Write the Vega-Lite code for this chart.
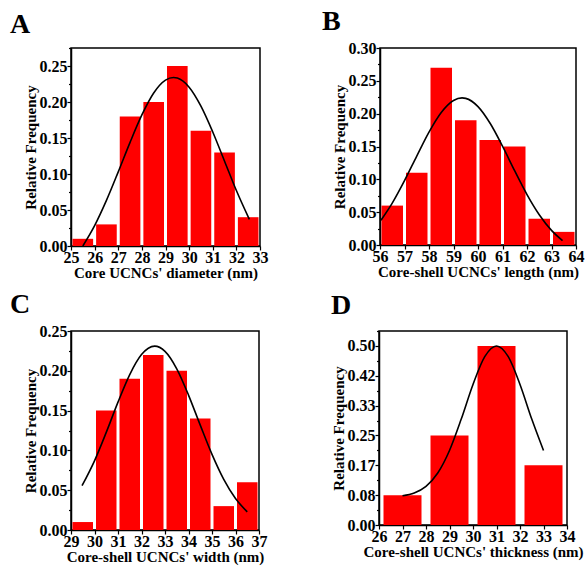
{
  "$schema": "https://vega.github.io/schema/vega-lite/v6.json",
  "background": "white",
  "padding": {"left": 9, "top": 7, "right": 0, "bottom": 2},
  "config": {
    "font": "Liberation Serif",
    "view": {"stroke": "black", "strokeWidth": 1.5},
    "axis": {
      "labelFont": "Liberation Serif", "labelFontWeight": "bold", "labelFontSize": 16, "labelColor": "black",
      "titleFont": "Liberation Serif", "titleFontWeight": "bold", "titleFontSize": 15, "titleColor": "black",
      "domainColor": "black", "domainWidth": 1.5, "tickColor": "black", "tickWidth": 1.2, "tickSize": 4,
      "labelPadding": 0, "titlePadding": 1, "grid": false, "labelFlush": false, "labelOverlap": false, "labelSeparation": -14
    },
    "axisX": {"labelPadding": -1, "titlePadding": 0},
    "title": {"font": "Liberation Serif", "fontSize": 28, "fontWeight": "bold", "color": "black", "anchor": "start", "frame": "bounds", "offset": 8}
  },
  "datasets": {
    "histA": [
      {"lo": 25, "hi": 26, "freq": 0.01}, {"lo": 26, "hi": 27, "freq": 0.03}, {"lo": 27, "hi": 28, "freq": 0.18}, {"lo": 28, "hi": 29, "freq": 0.20},
      {"lo": 29, "hi": 30, "freq": 0.25}, {"lo": 30, "hi": 31, "freq": 0.16}, {"lo": 31, "hi": 32, "freq": 0.13}, {"lo": 32, "hi": 33, "freq": 0.04}
    ],
    "fitA": [
      {"x": 25.5, "y": 0.0}, {"x": 26, "y": 0.0283}, {"x": 26.5, "y": 0.0633}, {"x": 27, "y": 0.103}, {"x": 27.5, "y": 0.144},
      {"x": 28, "y": 0.182}, {"x": 28.5, "y": 0.2125}, {"x": 29, "y": 0.2304}, {"x": 29.34, "y": 0.234}, {"x": 29.5, "y": 0.2332},
      {"x": 30, "y": 0.2206}, {"x": 30.5, "y": 0.1943}, {"x": 31, "y": 0.1584}, {"x": 31.5, "y": 0.1178}, {"x": 32, "y": 0.077}, {"x": 32.55, "y": 0.0369}
    ],
    "histB": [
      {"lo": 56, "hi": 57, "freq": 0.06}, {"lo": 57, "hi": 58, "freq": 0.11}, {"lo": 58, "hi": 59, "freq": 0.27}, {"lo": 59, "hi": 60, "freq": 0.19},
      {"lo": 60, "hi": 61, "freq": 0.16}, {"lo": 61, "hi": 62, "freq": 0.15}, {"lo": 62, "hi": 63, "freq": 0.04}, {"lo": 63, "hi": 64, "freq": 0.02}
    ],
    "fitB": [
      {"x": 56.04, "y": 0.0377}, {"x": 56.5, "y": 0.0638}, {"x": 57, "y": 0.098}, {"x": 57.5, "y": 0.1355}, {"x": 58, "y": 0.172},
      {"x": 58.5, "y": 0.2019}, {"x": 59, "y": 0.2201}, {"x": 59.35, "y": 0.224}, {"x": 59.5, "y": 0.2233}, {"x": 60, "y": 0.2108},
      {"x": 60.5, "y": 0.185}, {"x": 61, "y": 0.1505}, {"x": 61.5, "y": 0.1128}, {"x": 62, "y": 0.0768}, {"x": 62.5, "y": 0.0461},
      {"x": 63, "y": 0.0223}, {"x": 63.45, "y": 0.0067}
    ],
    "histC": [
      {"lo": 29, "hi": 30, "freq": 0.01}, {"lo": 30, "hi": 31, "freq": 0.15}, {"lo": 31, "hi": 32, "freq": 0.19}, {"lo": 32, "hi": 33, "freq": 0.22},
      {"lo": 33, "hi": 34, "freq": 0.20}, {"lo": 34, "hi": 35, "freq": 0.14}, {"lo": 35, "hi": 36, "freq": 0.03}, {"lo": 36, "hi": 37, "freq": 0.06}
    ],
    "fitC": [
      {"x": 29.47, "y": 0.0556}, {"x": 30, "y": 0.0869}, {"x": 30.5, "y": 0.1226}, {"x": 31, "y": 0.1606}, {"x": 31.5, "y": 0.1953},
      {"x": 32, "y": 0.2204}, {"x": 32.56, "y": 0.231}, {"x": 33, "y": 0.2244}, {"x": 33.5, "y": 0.2025}, {"x": 34, "y": 0.1695},
      {"x": 34.5, "y": 0.1317}, {"x": 35, "y": 0.095}, {"x": 35.5, "y": 0.0636}, {"x": 36, "y": 0.0395}, {"x": 36.5, "y": 0.0228}
    ],
    "histD": [
      {"lo": 26, "hi": 28, "freq": 0.0833}, {"lo": 28, "hi": 30, "freq": 0.25}, {"lo": 30, "hi": 32, "freq": 0.5}, {"lo": 32, "hi": 34, "freq": 0.1667}
    ],
    "fitD": [
      {"x": 27, "y": 0.0818}, {"x": 27.5, "y": 0.0895}, {"x": 28, "y": 0.1079}, {"x": 28.5, "y": 0.1451}, {"x": 29, "y": 0.2081},
      {"x": 29.5, "y": 0.2957}, {"x": 30, "y": 0.3925}, {"x": 30.5, "y": 0.4701}, {"x": 31, "y": 0.5}, {"x": 31.5, "y": 0.4701},
      {"x": 32, "y": 0.3925}, {"x": 32.5, "y": 0.2957}, {"x": 33, "y": 0.2081}
    ]
  },
  "vconcat": [
    {
      "hconcat": [
        {
          "title": {"text": "A", "dx": -13, "offset": 8},
          "width": 189, "height": 198,
          "resolve": {"axis": {"y": "independent"}},
          "layer": [
            {
              "data": {"name": "histA"},
              "mark": {"type": "bar", "color": "#ff0000", "xOffset": 1.5, "x2Offset": -1.5},
              "encoding": {
                "x": {"field": "lo", "type": "quantitative", "scale": {"domain": [25, 33], "nice": false},
                      "axis": {"values": [25, 26, 27, 28, 29, 30, 31, 32, 33], "labelOverlap": false, "labelSeparation": -14, "title": "Core UCNCs' diameter (nm)"}},
                "x2": {"field": "hi"},
                "y": {"field": "freq", "type": "quantitative", "scale": {"domain": [0, 0.275], "nice": false},
                      "axis": {"values": [0, 0.05, 0.1, 0.15, 0.2, 0.25], "format": ".2f", "title": "Relative Frequency"}},
                "y2": {"datum": 0}
              }
            },
            {
              "data": {"name": "fitA"},
              "mark": {"type": "line", "color": "black", "strokeWidth": 1.6, "interpolate": "monotone"},
              "encoding": {
                "x": {"field": "x", "type": "quantitative",
                      "axis": {"values": [25, 26, 27, 28, 29, 30, 31, 32, 33], "labelOverlap": false, "labelSeparation": -14, "title": "Core UCNCs' diameter (nm)"}},
                "y": {"field": "y", "type": "quantitative",
                      "axis": {"orient": "left", "values": [0.025, 0.075, 0.125, 0.175, 0.225, 0.275], "labels": false, "domain": false, "title": null, "tickSize": 2.5}}
              }
            }
          ]
        },
        {
          "title": {"text": "B", "dx": -10, "offset": 4},
          "width": 196, "height": 197,
          "resolve": {"axis": {"y": "independent"}},
          "layer": [
            {
              "data": {"name": "histB"},
              "mark": {"type": "bar", "color": "#ff0000", "xOffset": 1.5, "x2Offset": -1.5},
              "encoding": {
                "x": {"field": "lo", "type": "quantitative", "scale": {"domain": [56, 64], "nice": false},
                      "axis": {"values": [56, 57, 58, 59, 60, 61, 62, 63, 64], "labelOverlap": false, "labelSeparation": -14, "title": "Core-shell UCNCs' length (nm)"}},
                "x2": {"field": "hi"},
                "y": {"field": "freq", "type": "quantitative", "scale": {"domain": [0, 0.3], "nice": false},
                      "axis": {"values": [0, 0.05, 0.1, 0.15, 0.2, 0.25, 0.3], "format": ".2f", "title": "Relative Frequency"}},
                "y2": {"datum": 0}
              }
            },
            {
              "data": {"name": "fitB"},
              "mark": {"type": "line", "color": "black", "strokeWidth": 1.6, "interpolate": "monotone"},
              "encoding": {
                "x": {"field": "x", "type": "quantitative",
                      "axis": {"values": [56, 57, 58, 59, 60, 61, 62, 63, 64], "labelOverlap": false, "labelSeparation": -14, "title": "Core-shell UCNCs' length (nm)"}},
                "y": {"field": "y", "type": "quantitative",
                      "axis": {"orient": "left", "values": [0.025, 0.075, 0.125, 0.175, 0.225, 0.275], "labels": false, "domain": false, "title": null, "tickSize": 2.5}}
              }
            }
          ]
        }
      ],
      "spacing": 52
    },
    {
      "hconcat": [
        {
          "title": {"text": "C", "dx": -13, "offset": 4},
          "width": 188, "height": 199,
          "resolve": {"axis": {"y": "independent"}},
          "layer": [
            {
              "data": {"name": "histC"},
              "mark": {"type": "bar", "color": "#ff0000", "xOffset": 1.5, "x2Offset": -1.5},
              "encoding": {
                "x": {"field": "lo", "type": "quantitative", "scale": {"domain": [29, 37], "nice": false},
                      "axis": {"values": [29, 30, 31, 32, 33, 34, 35, 36, 37], "labelOverlap": false, "labelSeparation": -14, "title": "Core-shell UCNCs' width (nm)"}},
                "x2": {"field": "hi"},
                "y": {"field": "freq", "type": "quantitative", "scale": {"domain": [0, 0.25], "nice": false},
                      "axis": {"values": [0, 0.05, 0.1, 0.15, 0.2, 0.25], "format": ".2f", "title": "Relative Frequency"}},
                "y2": {"datum": 0}
              }
            },
            {
              "data": {"name": "fitC"},
              "mark": {"type": "line", "color": "black", "strokeWidth": 1.6, "interpolate": "monotone"},
              "encoding": {
                "x": {"field": "x", "type": "quantitative",
                      "axis": {"values": [29, 30, 31, 32, 33, 34, 35, 36, 37], "labelOverlap": false, "labelSeparation": -14, "title": "Core-shell UCNCs' width (nm)"}},
                "y": {"field": "y", "type": "quantitative",
                      "axis": {"orient": "left", "values": [0.025, 0.075, 0.125, 0.175, 0.225], "labels": false, "domain": false, "title": null, "tickSize": 2.5}}
              }
            }
          ]
        },
        {
          "title": {"text": "D", "offset": 10},
          "width": 188, "height": 194,
          "resolve": {"axis": {"y": "independent"}},
          "layer": [
            {
              "data": {"name": "histD"},
              "mark": {"type": "bar", "color": "#ff0000", "xOffset": 4.5, "x2Offset": -4.5},
              "encoding": {
                "x": {"field": "lo", "type": "quantitative", "scale": {"domain": [26, 34], "nice": false},
                      "axis": {"values": [26, 27, 28, 29, 30, 31, 32, 33, 34], "labelOverlap": false, "labelSeparation": -14, "title": "Core-shell UCNCs' thickness (nm)"}},
                "x2": {"field": "hi"},
                "y": {"field": "freq", "type": "quantitative", "scale": {"domain": [0, 0.5417], "nice": false},
                      "axis": {"values": [0, 0.08333, 0.16667, 0.25, 0.33333, 0.41667, 0.5], "format": ".2f", "title": "Relative Frequency"}},
                "y2": {"datum": 0}
              }
            },
            {
              "data": {"name": "fitD"},
              "mark": {"type": "line", "color": "black", "strokeWidth": 1.6, "interpolate": "monotone"},
              "encoding": {
                "x": {"field": "x", "type": "quantitative",
                      "axis": {"values": [26, 27, 28, 29, 30, 31, 32, 33, 34], "labelOverlap": false, "labelSeparation": -14, "title": "Core-shell UCNCs' thickness (nm)"}},
                "y": {"field": "y", "type": "quantitative",
                      "axis": {"orient": "left", "values": [0.04167, 0.125, 0.20833, 0.29167, 0.375, 0.45833, 0.5417], "labels": false, "domain": false, "title": null, "tickSize": 2.5}}
              }
            }
          ]
        }
      ],
      "spacing": 62
    }
  ],
  "spacing": 9
}
